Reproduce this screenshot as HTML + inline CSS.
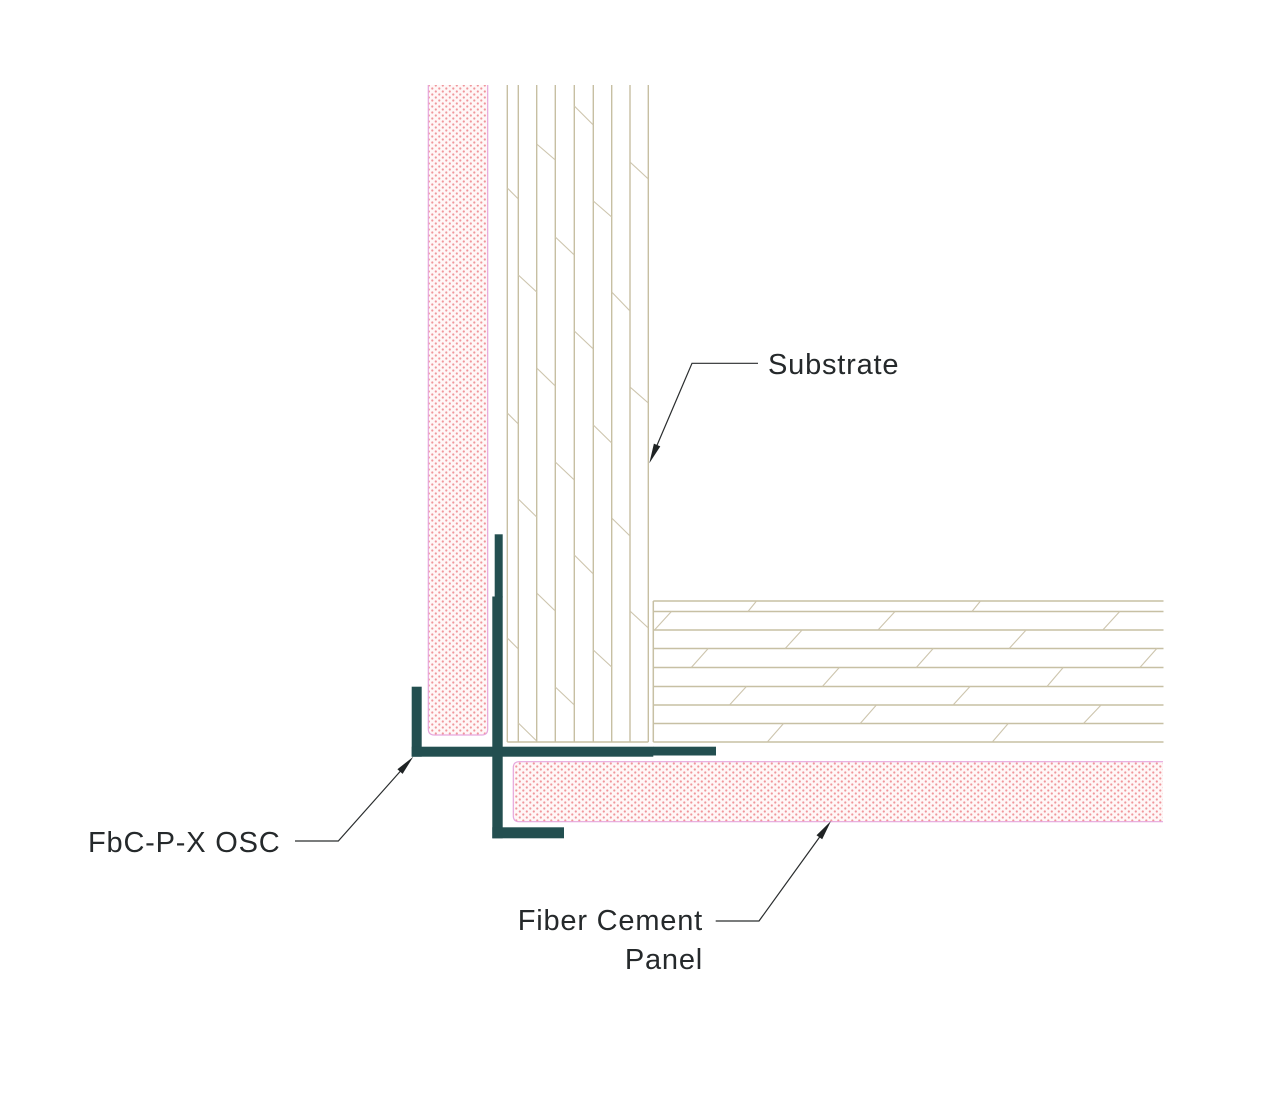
<!DOCTYPE html>
<html>
<head>
<meta charset="utf-8">
<style>
html,body{margin:0;padding:0;background:#ffffff;}
svg{display:block;}
text{font-family:"Liberation Sans", Arial, sans-serif;font-size:29px;fill:#25292b;letter-spacing:0.8px;}
</style>
</head>
<body>
<svg width="1275" height="1100" viewBox="0 0 1275 1100" xmlns="http://www.w3.org/2000/svg">
<defs>
  <pattern id="dots" x="0" y="0" width="7" height="6" patternUnits="userSpaceOnUse">
    <rect width="7" height="6" fill="#fff7f7"/>
    <circle cx="1.8" cy="1.5" r="1.1" fill="#f0969b"/>
    <circle cx="5.3" cy="4.5" r="1.1" fill="#f0969b"/>
  </pattern>
</defs>
<rect width="1275" height="1100" fill="#ffffff"/>

<!-- Vertical pink fiber cement panel -->
<path d="M428.3,85 L428.3,729 Q428.3,735 434.3,735 L481.7,735 Q487.7,735 487.7,729 L487.7,85 Z" fill="url(#dots)"/>
<path d="M428.3,85 L428.3,729 Q428.3,735 434.3,735 L481.7,735 Q487.7,735 487.7,729 L487.7,85" fill="none" stroke="#e6a6dd" stroke-width="1.2"/>

<!-- Horizontal pink fiber cement panel -->
<path d="M1163,761.7 L519.3,761.7 Q513.3,761.7 513.3,767.7 L513.3,815.7 Q513.3,821.7 519.3,821.7 L1163,821.7 Z" fill="url(#dots)"/>
<path d="M1163,761.7 L519.3,761.7 Q513.3,761.7 513.3,767.7 L513.3,815.7 Q513.3,821.7 519.3,821.7 L1163,821.7" fill="none" stroke="#e6a6dd" stroke-width="1.2"/>

<!-- Vertical substrate -->
<rect x="507.3" y="85" width="141" height="657" fill="#ffffff"/>
<g stroke="#c7bfa2" stroke-width="1.4" fill="none">
  <line x1="507.3" y1="85" x2="507.3" y2="742"/>
  <line x1="518.3" y1="85" x2="518.3" y2="742"/>
  <line x1="536.7" y1="85" x2="536.7" y2="742"/>
  <line x1="555.3" y1="85" x2="555.3" y2="742"/>
  <line x1="574.3" y1="85" x2="574.3" y2="742"/>
  <line x1="593.3" y1="85" x2="593.3" y2="742"/>
  <line x1="611.7" y1="85" x2="611.7" y2="742"/>
  <line x1="630" y1="85" x2="630" y2="742"/>
  <line x1="648.3" y1="85" x2="648.3" y2="742"/>
  <line x1="507.3" y1="742" x2="648.3" y2="742"/>
</g>
<g stroke="#cdc5ad" stroke-width="1.1" fill="none">
  <line x1="507.3" y1="188" x2="518.3" y2="199"/>
  <line x1="507.3" y1="413" x2="518.3" y2="424"/>
  <line x1="507.3" y1="638" x2="518.3" y2="649"/>
  <line x1="518.3" y1="275" x2="536.7" y2="292"/>
  <line x1="518.3" y1="499" x2="536.7" y2="517"/>
  <line x1="518.3" y1="723" x2="536.7" y2="741"/>
  <line x1="536.7" y1="144" x2="555.3" y2="160"/>
  <line x1="536.7" y1="368" x2="555.3" y2="386"/>
  <line x1="536.7" y1="593" x2="555.3" y2="611"/>
  <line x1="555.3" y1="237" x2="574.3" y2="255"/>
  <line x1="555.3" y1="462" x2="574.3" y2="480"/>
  <line x1="555.3" y1="687" x2="574.3" y2="705"/>
  <line x1="574.3" y1="106" x2="593.3" y2="125"/>
  <line x1="574.3" y1="331" x2="593.3" y2="349"/>
  <line x1="574.3" y1="555" x2="593.3" y2="574"/>
  <line x1="593.3" y1="201" x2="611.7" y2="217"/>
  <line x1="593.3" y1="425" x2="611.7" y2="443"/>
  <line x1="593.3" y1="650" x2="611.7" y2="667"/>
  <line x1="611.7" y1="292" x2="630" y2="311"/>
  <line x1="611.7" y1="518" x2="630" y2="536"/>
  <line x1="630" y1="162" x2="648.3" y2="179"/>
  <line x1="630" y1="387" x2="648.3" y2="403"/>
  <line x1="630" y1="611" x2="648.3" y2="628"/>
</g>

<!-- Horizontal substrate -->
<rect x="653.3" y="601" width="510" height="141" fill="#ffffff"/>
<g stroke="#c7c0a4" stroke-width="1.5" fill="none">
  <line x1="653.3" y1="601" x2="653.3" y2="742"/>
  <line x1="653.3" y1="601" x2="1163.5" y2="601"/>
  <line x1="653.3" y1="611.5" x2="1163.5" y2="611.5"/>
  <line x1="653.3" y1="630" x2="1163.5" y2="630"/>
  <line x1="653.3" y1="648.5" x2="1163.5" y2="648.5"/>
  <line x1="653.3" y1="667.5" x2="1163.5" y2="667.5"/>
  <line x1="653.3" y1="686.5" x2="1163.5" y2="686.5"/>
  <line x1="653.3" y1="705" x2="1163.5" y2="705"/>
  <line x1="653.3" y1="723.5" x2="1163.5" y2="723.5"/>
  <line x1="653.3" y1="742" x2="1163.5" y2="742"/>
</g>
<g stroke="#cdc5ad" stroke-width="1.1" fill="none">
  <line x1="748" y1="611.5" x2="756.5" y2="601"/>
  <line x1="972" y1="611.5" x2="980.5" y2="601"/>
  <line x1="654.5" y1="630" x2="671.4" y2="611.5"/>
  <line x1="878" y1="630" x2="895" y2="611.5"/>
  <line x1="1102.8" y1="630" x2="1119.7" y2="611.5"/>
  <line x1="785.2" y1="648.5" x2="802.1" y2="630"/>
  <line x1="1009.2" y1="648.5" x2="1026.1" y2="630"/>
  <line x1="691.3" y1="667.5" x2="708.2" y2="648.5"/>
  <line x1="916.3" y1="667.5" x2="933.2" y2="648.5"/>
  <line x1="1139.9" y1="667.5" x2="1156.8" y2="648.5"/>
  <line x1="822.4" y1="686.5" x2="839.3" y2="667.5"/>
  <line x1="1047" y1="686.5" x2="1063.2" y2="667.5"/>
  <line x1="729.5" y1="705" x2="746.4" y2="686.5"/>
  <line x1="953.1" y1="705" x2="970" y2="686.5"/>
  <line x1="860.2" y1="723.5" x2="876.4" y2="705"/>
  <line x1="1083.5" y1="723.5" x2="1101.1" y2="705"/>
  <line x1="767.3" y1="742" x2="783.5" y2="723.5"/>
  <line x1="992.3" y1="742" x2="1008.2" y2="723.5"/>
</g>

<!-- FbC-P-X OSC steel profile -->
<g fill="#234f50">
  <rect x="411.7" y="686.7" width="10" height="70"/>
  <rect x="411.7" y="746.7" width="241.6" height="10"/>
  <rect x="653" y="746.7" width="63" height="8.8"/>
  <rect x="494.7" y="534.3" width="8" height="63"/>
  <rect x="492.3" y="596.5" width="10.4" height="241.8"/>
  <rect x="492.3" y="827.3" width="71.7" height="11"/>
</g>

<!-- Leaders -->
<g stroke="#2a2d2e" stroke-width="1.2" fill="none">
  <polyline points="758,363.3 692,363.3 655,450"/>
  <polyline points="295,841 338.3,841 405,766"/>
  <polyline points="715.7,921 759,921 824,831"/>
</g>
<g fill="#1f2324">
  <polygon points="649.3,463.3 660.3,446.4 653.9,443.6"/>
  <polygon points="413.3,756.7 402.6,773.9 397.4,769.3"/>
  <polygon points="831,821 822.2,839.3 816.5,835.2"/>
</g>

<!-- Labels -->
<text x="768" y="374">Substrate</text>
<text x="88" y="852">FbC-P-X OSC</text>
<text x="703" y="930" text-anchor="end">Fiber Cement</text>
<text x="703" y="969" text-anchor="end">Panel</text>
</svg>
</body>
</html>
